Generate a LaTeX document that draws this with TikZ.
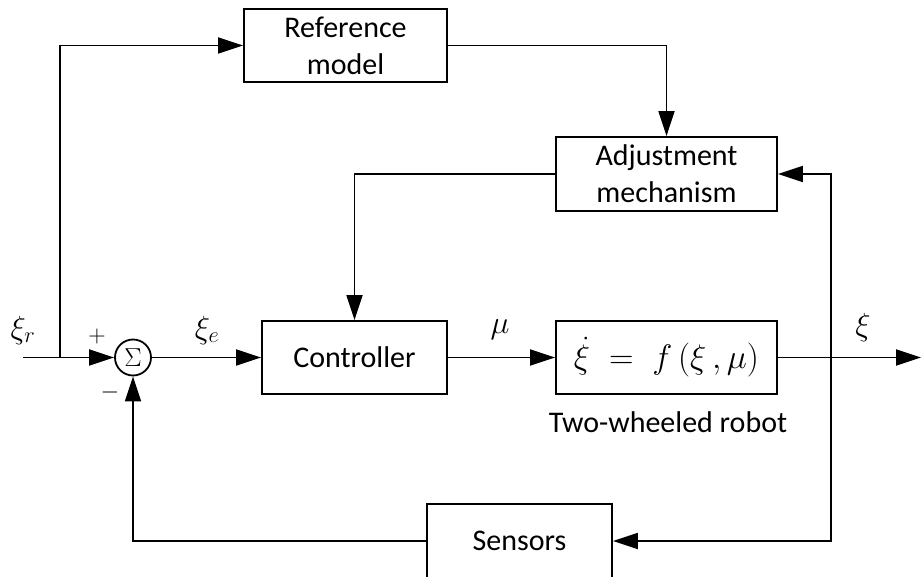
\RequirePackage{fix-cm}
\documentclass[tikz,border=0pt]{standalone}
\usepackage{fontspec}
\setmainfont{Carlito}
\usetikzlibrary{arrows.meta}
\begin{document}
\begin{tikzpicture}[x=1pt,y=-1pt,
  blk/.style={draw,line width=1.8pt,minimum width=#1,inner sep=0pt,align=center,font=\fontsize{30}{37}\selectfont},
  conn/.style={line width=1.8pt},
  arr/.style={conn,-{Triangle[length=25pt,width=16pt]}},
  lbl/.style={font=\fontsize{32}{32}\selectfont,inner sep=0pt}]
\useasboundingbox (0,0) rectangle (921,577);
\node[blk=203pt,minimum height=73pt] (ref) at (345.5,45.5) {Reference\\model};
\node[blk=221pt,minimum height=74pt] (adj) at (666.5,174) {Adjustment\\mechanism};
\node[blk=185pt,minimum height=73pt] (ctrl) at (354.5,357.5) {Controller};
\node[blk=221pt,minimum height=73pt,font=\fontsize{34}{34}\selectfont] (rob) at (666.5,357.5) {$\dot{\xi}\;=\;f\,(\xi\,,\mu)$};
\node[blk=185pt,minimum height=74pt] (sens) at (519.5,541) {Sensors};
\node[draw,circle,line width=1.8pt,minimum size=36pt,inner sep=0pt,font=\fontsize{26}{26}\selectfont] (sum) at (133,357.5) {$\Sigma$};
\coordinate (in) at (23,357.5);
\coordinate (br) at (60,357.5);
\coordinate (tap) at (831,357.5);
\coordinate (out) at (921,357.5);
\draw[arr] (in) -- (sum.west);
\draw[arr] (br) |- (ref.west);
\draw[arr] (ref.east) -| (adj.north);
\draw[arr] (adj.west) -| (ctrl.north);
\draw[arr] (sum.east) -- (ctrl.west);
\draw[arr] (ctrl.east) -- (rob.west);
\draw[arr] (rob.east) -- (out);
\draw[arr] (tap) |- (adj.east);
\draw[arr] (tap) |- (sens.east);
\draw[arr] (sens.west) -| (sum.south);
\node[lbl] (xr) at (23,330) {$\xi_r$};
\node[lbl,font=\fontsize{24}{24}\selectfont] (plus) at (97,337) {$+$};
\node[lbl,font=\fontsize{24}{24}\selectfont] (minus) at (110,392) {$-$};
\node[lbl] (xe) at (207,330) {$\xi_e$};
\node[lbl] (mu) at (500,330) {$\mu$};
\node[lbl] (xi) at (863,327) {$\xi$};
\node[inner sep=0pt,font=\fontsize{30}{30}\selectfont] (cap) at (668,422) {Two-wheeled robot};
\end{tikzpicture}
\end{document}
